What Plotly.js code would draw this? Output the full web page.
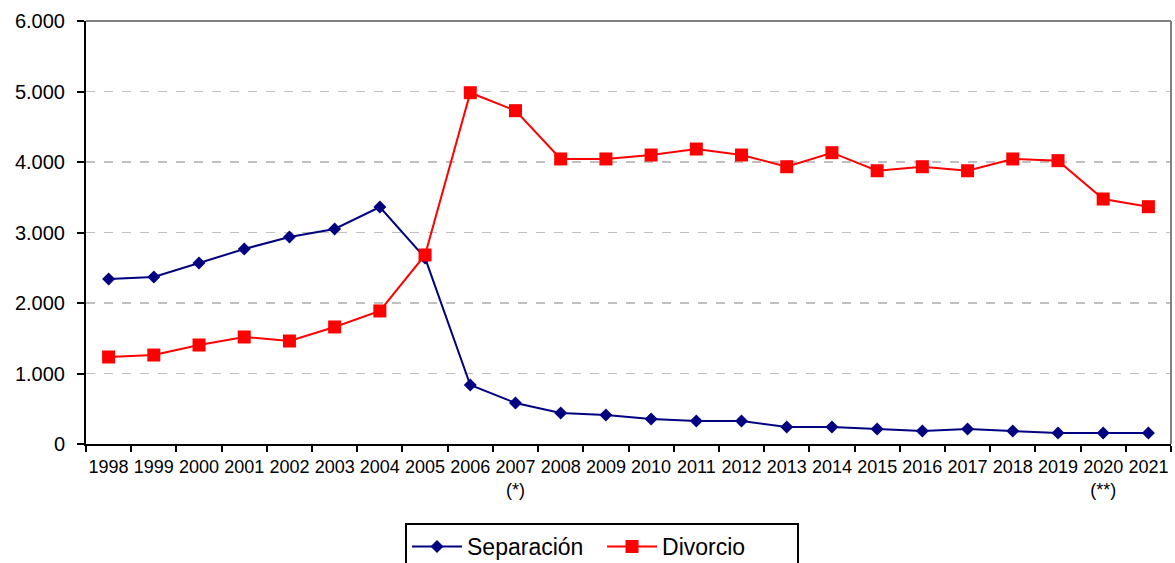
<!DOCTYPE html>
<html>
<head>
<meta charset="utf-8">
<script src="https://cdn.plot.ly/plotly-3.0.1.min.js"></script>
<style>html,body{margin:0;padding:0;background:#fff;}#chart{width:1175px;height:563px;}</style>
</head>
<body>
<div id="chart"></div>
<script>
var years = ["1998","1999","2000","2001","2002","2003","2004","2005","2006","2007","2008","2009","2010","2011","2012","2013","2014","2015","2016","2017","2018","2019","2020","2021"];
var tickLabels = ["1998","1999","2000","2001","2002","2003","2004","2005","2006","2007<br>(*)","2008","2009","2010","2011","2012","2013","2014","2015","2016","2017","2018","2019","2020<br>(**)","2021"];
var separacion = [2340,2370,2567,2766,2936,3050,3362,2640,837,582,440,411,355,326,326,241,241,213,184,213,184,156,156,156];
var divorcio = [1234,1262,1404,1518,1461,1660,1887,2681,4983,4728,4043,4043,4099,4184,4099,3933,4132,3876,3933,3876,4043,4019,3475,3366];

var traces = [
  {x: years, y: separacion, name: "Separación", type: "scatter", mode: "lines+markers",
   line: {color: "#000080", width: 2}, marker: {symbol: "diamond", size: 10, color: "#000080"}},
  {x: years, y: divorcio, name: "Divorcio", type: "scatter", mode: "lines+markers",
   line: {color: "#ff0000", width: 2}, marker: {symbol: "square", size: 13, color: "#ff0000"}}
];

var layout = {
  width: 1175, height: 563,
  margin: {l: 86, r: 4, t: 21, b: 119, autoexpand: false},
  paper_bgcolor: "#fff", plot_bgcolor: "#fff",
  separators: ",.",
  font: {family: "Liberation Sans, Arial, sans-serif", color: "#000"},
  showlegend: true,
  legend: {orientation: "h", x: 0.4756, xanchor: "center", y: -0.1868, yanchor: "top",
           bordercolor: "#000", borderwidth: 2, font: {size: 23, color: "#000"},
           itemwidth: 50, entrywidth: 130, bgcolor: "#fff"},
  xaxis: {type: "category", tickmode: "array", tickvals: years, ticktext: tickLabels,
          tickson: "boundaries", ticks: "outside", ticklen: 6, tickwidth: 2, tickcolor: "#000",
          showline: true, linecolor: "#000", linewidth: 2, showgrid: false,
          tickfont: {size: 18}, tickangle: 0, range: [-0.5, 23.5], ticklabelstandoff: 5,
          automargin: false},
  yaxis: {range: [0, 6000], dtick: 1000, tickformat: ",.0f", ticks: "outside", ticklen: 7,
          tickwidth: 2, tickcolor: "#000", showline: true, linecolor: "#000", linewidth: 2,
          showgrid: true, gridcolor: "#c0c0c0", gridwidth: 1.5, griddash: "dash",
          zeroline: false, tickfont: {size: 20}, ticklabelstandoff: 8, automargin: false},
  shapes: [
    {type: "line", xref: "paper", yref: "paper", x0: 0, x1: 1, y0: 1, y1: 1, line: {color: "#808080", width: 2}},
    {type: "line", xref: "paper", yref: "paper", x0: 1, x1: 1, y0: 0, y1: 1, line: {color: "#808080", width: 2}}
  ]
};

Plotly.newPlot("chart", traces, layout, {displayModeBar: false, staticPlot: true});
</script>
</body>
</html>
